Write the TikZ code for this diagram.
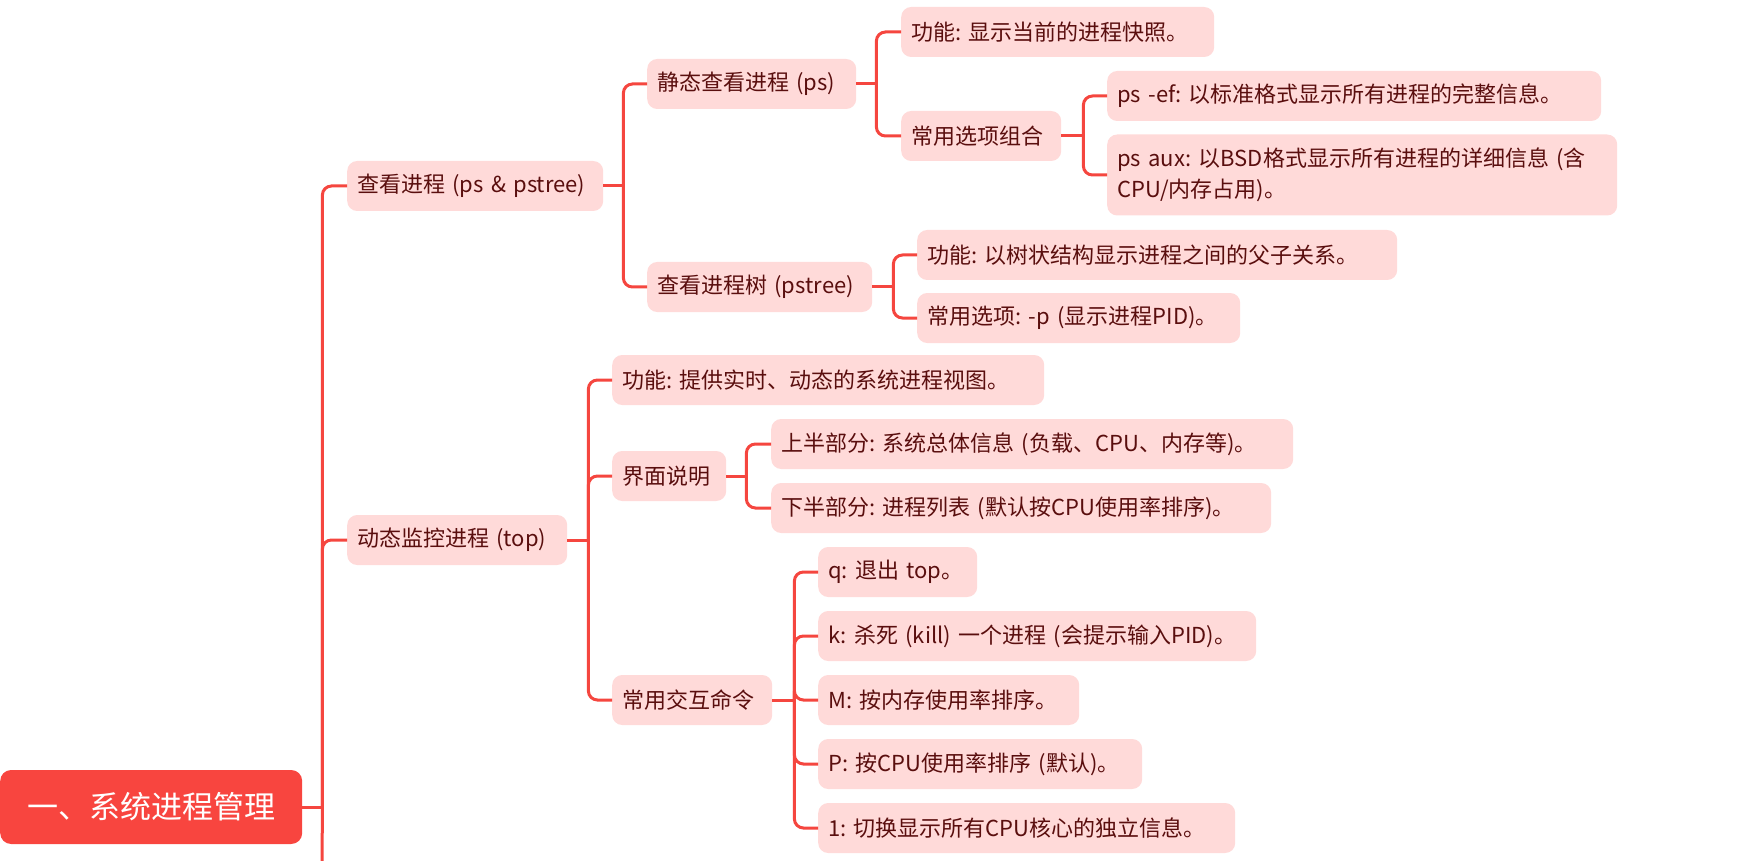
\documentclass[tikz,border=0pt]{standalone}
\usepackage{fontspec}
\setmainfont{Noto Sans CJK SC}
\usepackage{xcolor}
\usepackage{tikz}
\usetikzlibrary{positioning}

\definecolor{linkred}{HTML}{F5463F}
\definecolor{rootred}{HTML}{F8453F}
\definecolor{leafpink}{HTML}{FFDAD9}
\definecolor{leaftext}{HTML}{5A0E0E}

\tikzset{
  leaf/.style={anchor=west, fill=leafpink, text=leaftext, rounded corners=10pt,
    inner xsep=10pt, inner ysep=0pt, minimum height=50pt, align=left,
    font=\fontsize{22}{31}\selectfont\frenchspacing},
  link/.style={linkred, line width=3pt, rounded corners=9pt}
}

\begin{document}
\frenchspacing
\begin{tikzpicture}[x=1pt,y=-1pt]
\useasboundingbox (0,0) rectangle (1741,861);

% root
\node[anchor=west, fill=rootred, text=white, rounded corners=11pt, minimum width=302pt,
  minimum height=74pt, font=\fontsize{31}{36}\selectfont] (root) at (0,807) {一、系统进程管理};

% ps & pstree
\node[leaf, text width=236pt] (view) at (347,186) {查看进程 (ps \& pstree)};
\node[leaf, text width=189pt] (ps) at (647,84) {静态查看进程 (ps)};
\node[leaf, text width=205pt] (pstree) at (647,287) {查看进程树 (pstree)};

\node[leaf, text width=293pt] (psfunc) at (901,32) {功能: 显示当前的进程快照。};
\node[leaf, text width=140pt] (psopt) at (901,136) {常用选项组合};
\node[leaf, text width=474pt] (psef) at (1107,96) {ps -ef: 以标准格式显示所有进程的完整信息。};
\node[leaf, text width=490pt, minimum height=81pt] (psaux) at (1107,175)
  {ps aux: 以BSD格式显示所有进程的详细信息 (含\\CPU/内存占用)。};

\node[leaf, text width=460pt] (treefunc) at (917,255) {功能: 以树状结构显示进程之间的父子关系。};
\node[leaf, text width=303pt] (treeopt) at (917,318) {常用选项: -p (显示进程PID)。};

% top
\node[leaf, text width=200pt] (top) at (347,540) {动态监控进程 (top)};
\node[leaf, text width=412pt] (topfunc) at (612,380) {功能: 提供实时、动态的系统进程视图。};
\node[leaf, text width=94pt] (topui) at (612,476) {界面说明};
\node[leaf, text width=140pt] (topkeys) at (612,700) {常用交互命令};

\node[leaf, text width=502pt] (uiup) at (771,444) {上半部分: 系统总体信息 (负载、CPU、内存等)。};
\node[leaf, text width=480pt] (uidown) at (771,508) {下半部分: 进程列表 (默认按CPU使用率排序)。};

\node[leaf, text width=139pt] (keyq) at (818,572) {q: 退出 top。};
\node[leaf, text width=418pt] (keyk) at (818,636) {k: 杀死 (kill) 一个进程 (会提示输入PID)。};
\node[leaf, text width=241pt] (keym) at (818,700) {M: 按内存使用率排序。};
\node[leaf, text width=304pt] (keyp) at (818,764) {P: 按CPU使用率排序 (默认)。};
\node[leaf, text width=397pt] (key1) at (818,828) {1: 切换显示所有CPU核心的独立信息。};

\coordinate (more) at (322,875);

% connectors
\draw[link] (root.east) -- ++(20,0) coordinate (rootj);
\draw[link] (rootj) |- (view.west);
\draw[link] (rootj) |- (top.west);
\draw[link] (rootj) -- (more);

\draw[link] (view.east) -- ++(20,0) coordinate (viewj);
\draw[link] (viewj) |- (ps.west);
\draw[link] (viewj) |- (pstree.west);

\draw[link] (ps.east) -- ++(20,0) coordinate (psj);
\draw[link] (psj) |- (psfunc.west);
\draw[link] (psj) |- (psopt.west);

\draw[link] (psopt.east) -- ++(22,0) coordinate (psoptj);
\draw[link] (psoptj) |- (psef.west);
\draw[link] (psoptj) |- (psaux.west);

\draw[link] (pstree.east) -- ++(21,0) coordinate (pstreej);
\draw[link] (pstreej) |- (treefunc.west);
\draw[link] (pstreej) |- (treeopt.west);

\draw[link] (top.east) -- ++(21,0) coordinate (topj);
\draw[link] (topj) |- (topfunc.west);
\draw[link] (topj) |- (topui.west);
\draw[link] (topj) |- (topkeys.west);

\draw[link] (topui.east) -- ++(20,0) coordinate (uij);
\draw[link] (uij) |- (uiup.west);
\draw[link] (uij) |- (uidown.west);

\draw[link] (topkeys.east) -- ++(22,0) coordinate (keysj);
\foreach \k in {keyq,keyk,keym,keyp,key1}
  \draw[link] (keysj) |- (\k.west);

\end{tikzpicture}
\end{document}
